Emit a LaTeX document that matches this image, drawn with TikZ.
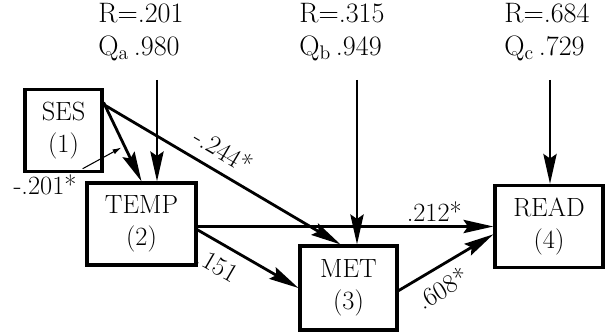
\documentclass[tikz,border=0pt]{standalone}
\usepackage{tikz}
\usetikzlibrary{arrows.meta,calc,positioning}

\begin{document}
\begin{tikzpicture}[x=0.02cm,y=-0.02cm,>={Stealth[length=17pt,width=7.5pt,inset=2.5pt]},
  every node/.style={font=\fontsize{15}{18.5}\selectfont},
  var/.style={draw,line width=1.8pt,align=center,minimum height=1.64cm,inner sep=2pt},
  link/.style={->,line width=1.6pt},
  coef/.style={inner sep=2pt},
  resid/.style={align=left,font=\fontsize{16}{18.5}\selectfont}]
\useasboundingbox (0,0) rectangle (605,333);
\node[var,minimum width=1.54cm] (ses) at (63.5,130.5) {SES\\(1)};
\node[var,minimum width=2.18cm] (temp) at (141.5,224) {TEMP\\(2)};
\node[var,minimum width=1.94cm,minimum height=1.68cm] (met) at (348.5,288) {MET\\(3)};
\node[var,minimum width=2.16cm] (read) at (549,226.5) {READ\\(4)};
\node[resid] (ra) at (141,32) {R=.201\\Q\textsubscript{a}\,.980};
\node[resid] (rb) at (342,32) {R=.315\\Q\textsubscript{b}\,.949};
\node[resid] (rc) at (547,32) {R=.684\\Q\textsubscript{c}\,.729};
\coordinate (ea) at (157,80);
\coordinate (eb) at (357,80);
\coordinate (ec) at (550,80);
\draw[link] (ea) -- (ea |- temp.north);
\draw[link] (eb) -- (eb |- met.north);
\draw[link] (ec) -- (ec |- read.north);
\draw[link] (ses.35) -- (temp.north) coordinate[pos=0.55] (p12);
\draw[link] (ses.33) -- ($(met.north)+(-8,0)$) node[coef,pos=0.46,sloped,above=4pt] {-.244*};
\draw[link] (read.west -| temp.east) -- (read.west) node[coef,pos=0.8,above] {.212*};
\draw[link] (temp.-6) -- (met.west) node[coef,pos=0.3,sloped,below=4pt] {.151};
\draw[link] (met.-3) -- (read.188) node[coef,pos=0.35,sloped,below=3pt] {.608*};
\node (l12) at (45,185) {-.201*};
\draw[line width=0.6pt,-{Latex[length=5pt,width=3pt]},shorten >=2pt] (l12.north east) -- (p12);
\end{tikzpicture}
\end{document}
